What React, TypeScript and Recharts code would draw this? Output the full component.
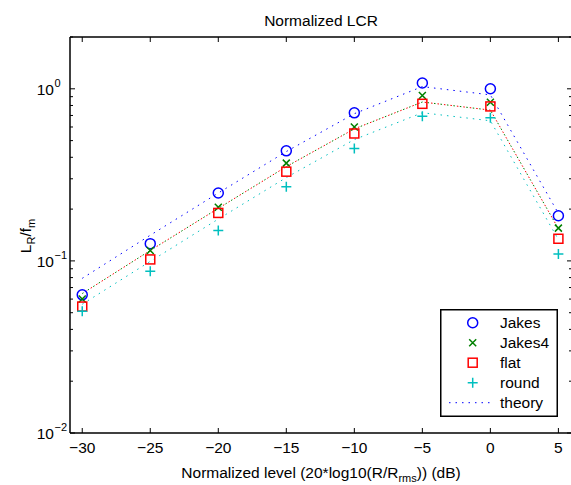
import React from 'react';
import { ComposedChart, Line, XAxis, YAxis, Legend } from 'recharts';

// measured points (dB level -> L_R / f_m)
const levels = [-30, -25, -20, -15, -10, -5, 0, 5];
const jakes = [0.0635, 0.126, 0.248, 0.436, 0.725, 1.08, 1.0, 0.183];
const jakes4 = [0.06, 0.115, 0.205, 0.37, 0.6, 0.914, 0.836, 0.155];
const flat = [0.0543, 0.102, 0.19, 0.33, 0.55, 0.818, 0.79, 0.1345];
const round = [0.051, 0.087, 0.15, 0.27, 0.45, 0.692, 0.678, 0.1096];

// theory curves at the same levels
const theoryJakes = [0.0792, 0.141, 0.248, 0.432, 0.717, 1.03, 0.922, 0.189];
const theoryJakes4 = [0.0646, 0.115, 0.202, 0.353, 0.585, 0.838, 0.752, 0.154];
const theoryFlat = [0.0646, 0.115, 0.202, 0.353, 0.585, 0.838, 0.752, 0.154];
const theoryRound = [0.056, 0.0994, 0.175, 0.305, 0.507, 0.726, 0.652, 0.133];

const xTicks = [-30, -25, -20, -15, -10, -5, 0, 5];
const yTicks = [
  0.01, 0.02, 0.03, 0.04, 0.05, 0.06, 0.07, 0.08, 0.09,
  0.1, 0.2, 0.3, 0.4, 0.5, 0.6, 0.7, 0.8, 0.9, 1, 2,
];
const legendNames = ['Jakes', 'Jakes4', 'flat', 'round', 'theory'];

const FONT = '"Liberation Sans", Arial, Helvetica, sans-serif';
const FS = 15.5;
const BLUE = '#0000FF';
const GREEN = '#008000';
const RED = '#FF0000';
const CYAN = '#00BFBF';

const toPoints = (xs: number[], ys: number[]) => xs.map((x, i) => ({ x, y: ys[i] }));

const Mark = ({ kind, cx, cy }: { kind: string; cx: number; cy: number }) => {
  if (kind === 'Jakes') return <circle cx={cx} cy={cy} r={5} fill="none" stroke={BLUE} strokeWidth={1.5} />;
  if (kind === 'Jakes4')
    return (
      <path d={`M${cx - 3.5},${cy - 3.5}L${cx + 3.5},${cy + 3.5}M${cx - 3.5},${cy + 3.5}L${cx + 3.5},${cy - 3.5}`} stroke={GREEN} strokeWidth={1.5} />
    );
  if (kind === 'flat') return <rect x={cx - 4.5} y={cy - 4.5} width={9} height={9} fill="none" stroke={RED} strokeWidth={1.5} />;
  if (kind === 'round')
    return <path d={`M${cx - 5},${cy}L${cx + 5},${cy}M${cx},${cy - 5}L${cx},${cy + 5}`} stroke={CYAN} strokeWidth={1.5} />;
  return <line x1={cx - 21} y1={cy} x2={cx + 21} y2={cy} stroke={BLUE} strokeDasharray="1.5 5" />;
};

const dotFor = (kind: string) => (p: any) => <Mark key={`${kind}-${p.index}`} kind={kind} cx={p.cx} cy={p.cy} />;

const xLabel = (v: number) => (v < 0 ? `\u2212${Math.abs(v)}` : `${v}`);

const BottomTick = ({ x, y, payload }: any) => (
  <g>
    <line x1={x} y1={y} x2={x} y2={y - 5} stroke="#000" />
    <text x={x} y={y + 20} textAnchor="middle" fontSize={FS} fontFamily={FONT} fill="#000">
      {xLabel(payload.value)}
    </text>
  </g>
);

const TopTick = ({ x, y }: any) => <line x1={x} y1={y} x2={x} y2={y + 5} stroke="#000" />;

const isDecade = (v: number) => Math.abs(Math.log10(v) - Math.round(Math.log10(v))) < 1e-6;

const LeftTick = ({ x, y, payload }: any) => {
  const v = payload.value;
  const dec = isDecade(v);
  const exp = Math.round(Math.log10(v));
  return (
    <g>
      <line x1={x} y1={y} x2={x + (dec ? 5 : 3)} y2={y} stroke="#000" />
      {dec && (
        <>
          <text x={x - 16} y={y + 6} textAnchor="end" fontSize={FS} fontFamily={FONT} fill="#000">10</text>
          <text x={x - 15.5} y={y - 2} textAnchor="start" fontSize={11} fontFamily={FONT} fill="#000">
            {exp < 0 ? `\u2212${-exp}` : `${exp}`}
          </text>
        </>
      )}
    </g>
  );
};

const RightTick = ({ x, y, payload }: any) => (
  <line x1={x} y1={y} x2={x - (isDecade(payload.value) ? 5 : 3)} y2={y} stroke="#000" />
);

const LegendBox = () => (
  <svg width={118} height={108} style={{ display: 'block' }}>
    <rect x={0.75} y={0.75} width={116.5} height={106.5} fill="#fff" stroke="#000" strokeWidth={1.5} />
    {legendNames.map((name, i) => (
      <g key={name}>
        <Mark kind={name} cx={name === 'theory' ? 30 : 32.7} cy={13.7 + 20 * i} />
        <text x={60} y={19 + 20 * i} fontSize={FS} fontFamily={FONT} fill="#000">
          {name}
        </text>
      </g>
    ))}
  </svg>
);

export default function App() {
  return (
    <div style={{ position: 'absolute', left: 0, top: 0, width: 571, height: 485, overflow: 'hidden', background: '#fff' }}>
      <div style={{ position: 'absolute', left: 0, top: 12, width: 642, textAlign: 'center', fontFamily: FONT, fontSize: FS, lineHeight: '18px' }}>
        Normalized LCR
      </div>
      <svg width={50} height={485} style={{ position: 'absolute', left: 0, top: 0 }}>
        <text transform="rotate(-90, 31, 236)" x={31} y={236} textAnchor="middle" fontSize={FS} fontFamily={FONT} fill="#000">
          L<tspan fontSize={11} dy={4}>R</tspan><tspan dy={-4}>/f</tspan><tspan fontSize={11} dy={4}>m</tspan>
        </text>
      </svg>
      <ComposedChart width={590} height={485} margin={{ top: 36, left: 69, right: 17, bottom: 51 }}>
        <XAxis xAxisId={0} dataKey="x" type="number" domain={[-30.9, 6]} allowDataOverflow ticks={xTicks}
          height={1} tickSize={0} tickMargin={0} tickLine={false} tick={BottomTick} interval={0}
          axisLine={{ stroke: '#000', strokeWidth: 1.5 }} />
        <XAxis xAxisId="top" orientation="top" dataKey="x" type="number" domain={[-30.9, 6]} allowDataOverflow ticks={xTicks}
          height={1} tickSize={0} tickMargin={0} tickLine={false} tick={TopTick} interval={0}
          axisLine={{ stroke: '#000', strokeWidth: 1.5 }} />
        <YAxis yAxisId={0} type="number" scale="log" domain={[0.01, 2]} allowDataOverflow ticks={yTicks}
          width={1} tickSize={0} tickMargin={0} tickLine={false} tick={LeftTick} interval={0}
          axisLine={{ stroke: '#000', strokeWidth: 1.5 }} />
        <YAxis yAxisId="right" orientation="right" type="number" scale="log" domain={[0.01, 2]} allowDataOverflow ticks={yTicks}
          width={1} tickSize={0} tickMargin={0} tickLine={false} tick={RightTick} interval={0}
          axisLine={{ stroke: '#000', strokeWidth: 1.5 }} />
        <Line data={toPoints(levels, theoryJakes)} dataKey="y" stroke={BLUE} strokeDasharray="1.5 5" dot={false} isAnimationActive={false} legendType="none" />
        <Line data={toPoints(levels, theoryJakes4)} dataKey="y" stroke={GREEN} strokeDasharray="1.5 5" dot={false} isAnimationActive={false} legendType="none" />
        <Line data={toPoints(levels, theoryFlat)} dataKey="y" stroke={RED} strokeDasharray="1.5 5" strokeDashoffset={3} dot={false} isAnimationActive={false} legendType="none" />
        <Line data={toPoints(levels, theoryRound)} dataKey="y" stroke={CYAN} strokeDasharray="1.5 5" dot={false} isAnimationActive={false} legendType="none" />
        <Line data={toPoints(levels, jakes)} dataKey="y" name="Jakes" stroke="none" dot={dotFor('Jakes')} isAnimationActive={false} />
        <Line data={toPoints(levels, jakes4)} dataKey="y" name="Jakes4" stroke="none" dot={dotFor('Jakes4')} isAnimationActive={false} />
        <Line data={toPoints(levels, flat)} dataKey="y" name="flat" stroke="none" dot={dotFor('flat')} isAnimationActive={false} />
        <Line data={toPoints(levels, round)} dataKey="y" name="round" stroke="none" dot={dotFor('round')} isAnimationActive={false} />
        <Legend layout="vertical" align="center" verticalAlign="middle"
          wrapperStyle={{ left: 440, top: 309, width: 118, height: 108 }} content={() => <LegendBox />} />
      </ComposedChart>
      <div style={{ position: 'absolute', left: 0, top: 464, width: 642, textAlign: 'center', fontFamily: FONT, fontSize: FS, lineHeight: '18px', whiteSpace: 'nowrap' }}>
        Normalized level (20*log10(R/R<sub style={{ fontSize: 11, lineHeight: 0 }}>rms</sub>)) (dB)
      </div>
    </div>
  );
}
